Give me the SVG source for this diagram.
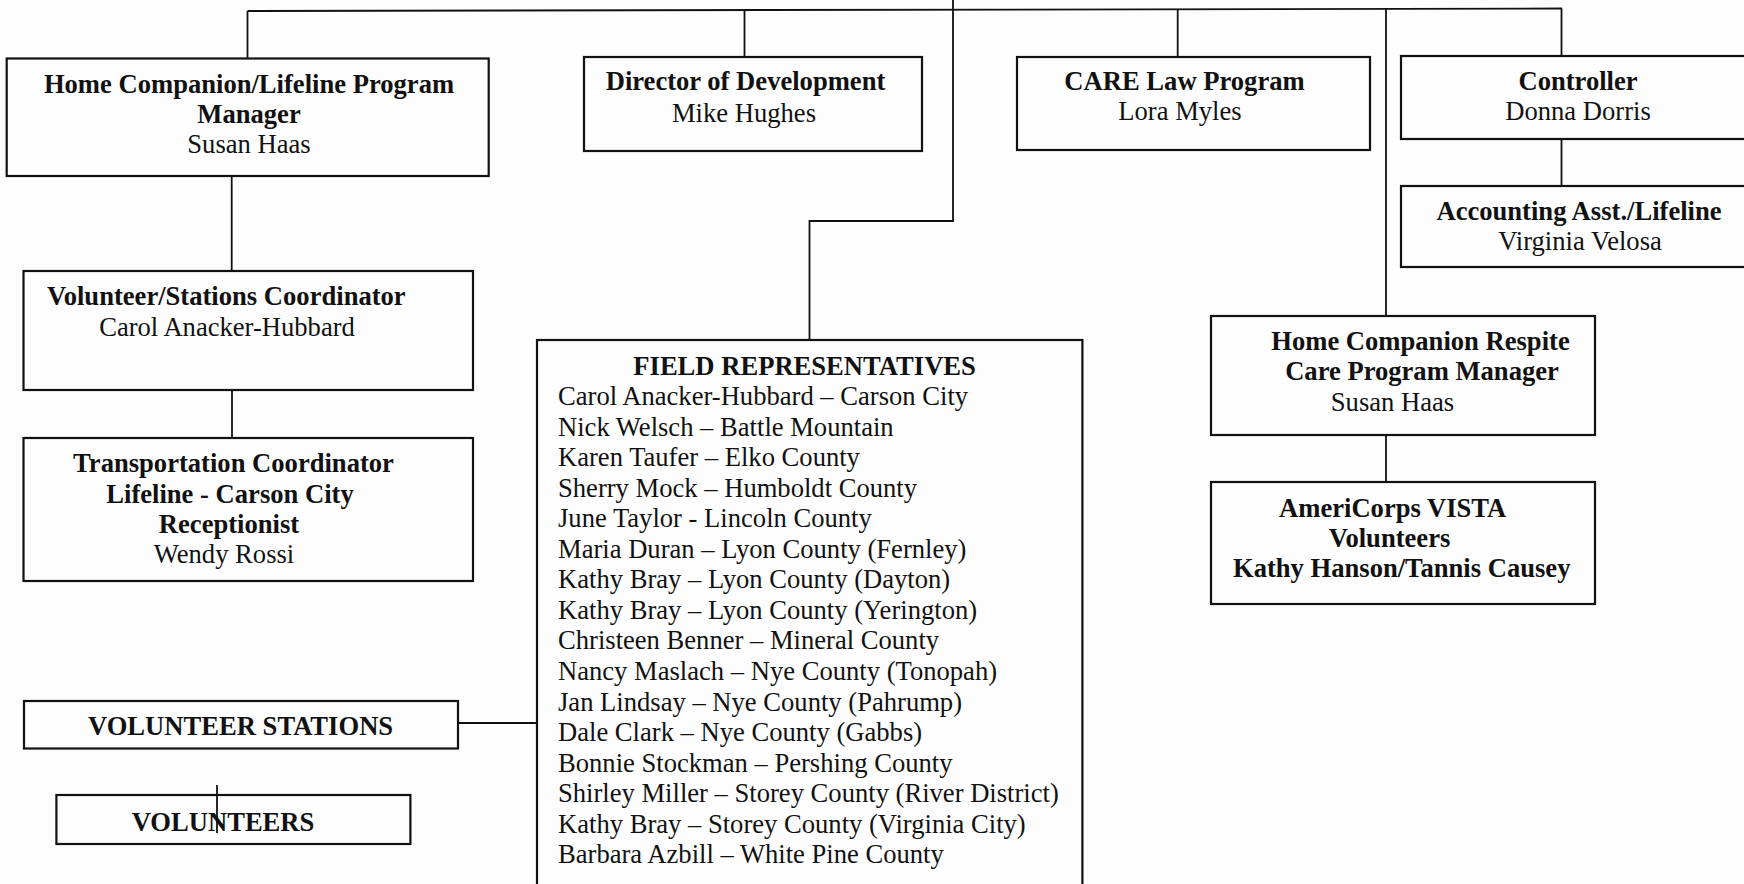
<svg xmlns="http://www.w3.org/2000/svg" width="1744" height="884" viewBox="0 0 1744 884">
<style>
.bg{fill:#fdfdfd}
.box{fill:#fdfdfd;stroke:#111;stroke-width:2.2}
.ln{fill:none;stroke:#111;stroke-width:1.8}
text{font-family:"Liberation Serif","Times New Roman",serif;font-size:26.6px;fill:#111}
.b{font-weight:bold}
.c{text-anchor:middle}
</style>
<rect class="bg" x="0" y="0" width="1744" height="884"/>
<g id="hc-lifeline-manager">
<rect class="box" x="6.7" y="58.5" width="482" height="117.5"/>
<text class="b c" x="249" y="93">Home Companion/Lifeline Program</text>
<text class="b c" x="249" y="123">Manager</text>
<text class="c" x="249" y="153">Susan Haas</text>
</g>
<g id="director-development">
<rect class="box" x="584" y="57" width="338" height="94"/>
<text class="b c" x="745.5" y="90">Director of Development</text>
<text class="c" x="744" y="121.5">Mike Hughes</text>
</g>
<g id="care-law">
<rect class="box" x="1017" y="57" width="353" height="93"/>
<text class="b c" x="1184.5" y="90">CARE Law Program</text>
<text class="c" x="1180" y="120">Lora Myles</text>
</g>
<g id="controller">
<rect class="box" x="1401" y="56" width="360" height="83"/>
<text class="b c" x="1578" y="90">Controller</text>
<text class="c" x="1578" y="119.5">Donna Dorris</text>
</g>
<g id="accounting">
<rect class="box" x="1401" y="186" width="360" height="81"/>
<text class="b c" x="1579" y="220">Accounting Asst./Lifeline</text>
<text class="c" x="1580" y="250">Virginia Velosa</text>
</g>
<g id="volunteer-stations-coordinator">
<rect class="box" x="23.5" y="271" width="449.5" height="119"/>
<text class="b c" x="226.3" y="305">Volunteer/Stations Coordinator</text>
<text class="c" x="227" y="336">Carol Anacker-Hubbard</text>
</g>
<g id="transportation-coordinator">
<rect class="box" x="23.5" y="438" width="449.5" height="143"/>
<text class="b c" x="233.5" y="471.7">Transportation Coordinator</text>
<text class="b c" x="230" y="503">Lifeline - Carson City</text>
<text class="b c" x="229" y="533">Receptionist</text>
<text class="c" x="224" y="563">Wendy Rossi</text>
</g>
<g id="volunteer-stations">
<rect class="box" x="24" y="701" width="434" height="47.5"/>
<text class="b c" x="240.6" y="735">VOLUNTEER STATIONS</text>
</g>
<g id="volunteers">
<rect class="box" x="56.4" y="795" width="354" height="49"/>
<text class="b c" x="223" y="831">VOLUNTEERS</text>
</g>
<g id="field-representatives">
<rect class="box" x="537" y="340" width="545.4" height="560"/>
<text class="b c" x="804.6" y="375">FIELD REPRESENTATIVES</text>
<text x="558" y="405">Carol Anacker-Hubbard – Carson City</text>
<text x="558" y="435.5">Nick Welsch – Battle Mountain</text>
<text x="558" y="466">Karen Taufer – Elko County</text>
<text x="558" y="496.6">Sherry Mock – Humboldt County</text>
<text x="558" y="527.2">June Taylor - Lincoln County</text>
<text x="558" y="557.7">Maria Duran – Lyon County (Fernley)</text>
<text x="558" y="588.3">Kathy Bray – Lyon County (Dayton)</text>
<text x="558" y="618.8">Kathy Bray – Lyon County (Yerington)</text>
<text x="558" y="649.4">Christeen Benner – Mineral County</text>
<text x="558" y="680">Nancy Maslach – Nye County (Tonopah)</text>
<text x="558" y="710.5">Jan Lindsay – Nye County (Pahrump)</text>
<text x="558" y="741">Dale Clark – Nye County (Gabbs)</text>
<text x="558" y="771.6">Bonnie Stockman – Pershing County</text>
<text x="558" y="802.2">Shirley Miller – Storey County (River District)</text>
<text x="558" y="832.7">Kathy Bray – Storey County (Virginia City)</text>
<text x="558" y="863.2">Barbara Azbill – White Pine County</text>
</g>
<g id="respite-manager">
<rect class="box" x="1211" y="316" width="384" height="119"/>
<text class="b c" x="1420.5" y="350">Home Companion Respite</text>
<text class="b c" x="1422" y="380">Care Program Manager</text>
<text class="c" x="1392.5" y="410.7">Susan Haas</text>
</g>
<g id="americorps-vista">
<rect class="box" x="1211" y="482" width="384" height="122"/>
<text class="b c" x="1392.7" y="516.7">AmeriCorps VISTA</text>
<text class="b c" x="1389.5" y="546.7">Volunteers</text>
<text class="b c" x="1401.7" y="577.3">Kathy Hanson/Tannis Causey</text>
</g>
<g id="connectors">
<path class="ln" d="M247.5 11 L1562 8.5"/>
<path class="ln" d="M247.5 11 V59"/>
<path class="ln" d="M744.5 10 V57"/>
<path class="ln" d="M953 0 V221 H809.5 V340"/>
<path class="ln" d="M1177.7 9.5 V57"/>
<path class="ln" d="M1386 9 V316"/>
<path class="ln" d="M1561.5 8.5 V56"/>
<path class="ln" d="M1561.5 139 V186"/>
<path class="ln" d="M231.7 176 V271"/>
<path class="ln" d="M232 390 V438"/>
<path class="ln" d="M458 723 H538"/>
<path class="ln" d="M1386 435 V482"/>
<path class="ln" d="M217 785 V833"/>
</g>
</svg>
